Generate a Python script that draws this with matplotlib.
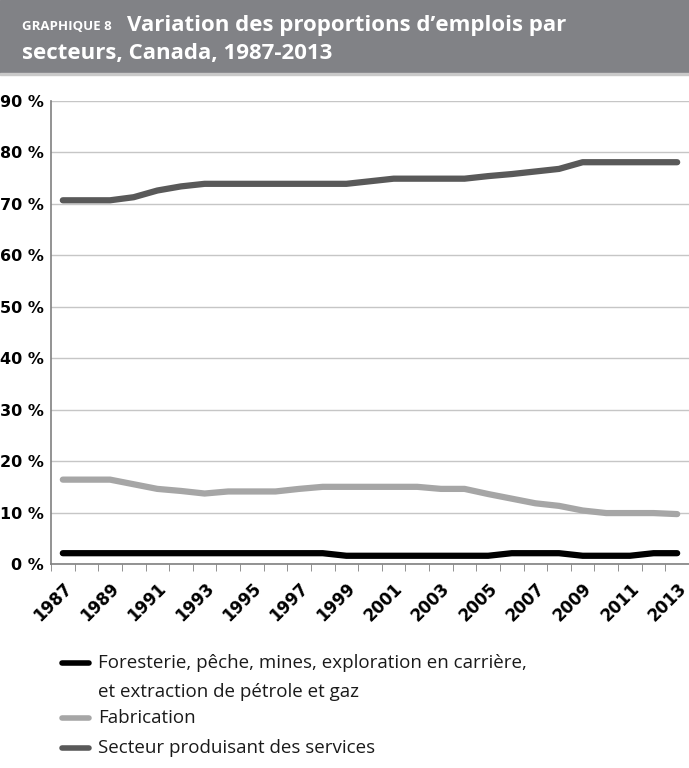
import matplotlib.pyplot as plt
from matplotlib.patches import Rectangle
from matplotlib.lines import Line2D

years = list(range(1987, 2014))
foresterie = [2.1, 2.1, 2.1, 2.1, 2.1, 2.1, 2.1, 2.1, 2.1, 2.1, 2.1, 2.1,
              1.6, 1.6, 1.6, 1.6, 1.6, 1.6, 1.6,
              2.1, 2.1, 2.1, 1.6, 1.6, 1.6, 2.1, 2.1]
fabrication = [16.4, 16.4, 16.4, 15.5, 14.6, 14.2, 13.7, 14.1, 14.1, 14.1, 14.6,
               15.0, 15.0, 15.0, 15.0, 15.0, 14.6, 14.6, 13.6, 12.7, 11.8, 11.3,
               10.4, 9.9, 9.9, 9.9, 9.7]
services = [70.7, 70.7, 70.7, 71.3, 72.6, 73.4, 73.9, 73.9, 73.9, 73.9, 73.9,
            73.9, 73.9, 74.4, 74.9, 74.9, 74.9, 74.9, 75.4, 75.8, 76.3, 76.8,
            78.1, 78.1, 78.1, 78.1, 78.1]

labels = ["Foresterie, pêche, mines, exploration en carrière,\net extraction de pétrole et gaz",
          "Fabrication",
          "Secteur produisant des services"]
colors = ["#000000", "#a6a6a6", "#595959"]

W, H = 689, 768
fig = plt.figure(figsize=(W / 100, H / 100), dpi=100)

# bandeau de titre
fig.patches.append(Rectangle((0, 1 - 73 / H), 1, 73 / H, transform=fig.transFigure,
                             color="#818286", zorder=0))
fig.patches.append(Rectangle((0, 1 - 75 / H), 1, 2 / H, transform=fig.transFigure,
                             color="#c9c9c9", zorder=0))
fig.text(22 / W, 1 - 27 / H, "GRAPHIQUE 8", color="white", fontsize=9.5,
         fontweight="bold", family="Open Sans", va="center", ha="left")
fig.text(127 / W, 1 - 25 / H, "Variation des proportions d\u2019emplois par",
         color="white", fontsize=16, fontweight="bold", family="Open Sans",
         va="center", ha="left")
fig.text(22 / W, 1 - 54 / H, "secteurs, Canada, 1987-2013",
         color="white", fontsize=16, fontweight="bold", family="Open Sans",
         va="center", ha="left")

ax = fig.add_axes([51 / W, 1 - 564 / H, 1 - 51 / W, (564 - 101) / H])
x = list(range(len(years)))
for vals, col in zip([foresterie, fabrication, services], colors):
    ax.plot(x, vals, color=col, lw=4.5, solid_capstyle="round", zorder=3)

ax.set_xlim(-0.5, len(years) - 0.5)
ax.set_ylim(0, 90)
ax.set_yticks(range(0, 91, 10))
ax.set_yticklabels([f"{v} %" for v in range(0, 91, 10)], fontsize=11.5, fontweight="bold")
ax.tick_params(axis="y", length=0, pad=5)
ax.grid(axis="y", color="#c6c6c6", lw=1)
ax.set_axisbelow(True)

ax.set_xticks(x[::2])
ax.set_xticklabels([str(y) for y in years[::2]], rotation=45, ha="right",
                   rotation_mode="anchor", fontsize=12, fontweight="bold")
ax.set_xticks([i - 0.5 for i in range(len(years) + 1)], minor=True)
ax.tick_params(axis="x", which="major", length=0, pad=11)
ax.tick_params(axis="x", which="minor", length=5, color="#808080", direction="out")

for s in ["top", "right"]:
    ax.spines[s].set_visible(False)
for s in ["left", "bottom"]:
    ax.spines[s].set_color("#808080")
    ax.spines[s].set_linewidth(1.2)

# légende
rows = [663, 718, 748]
for lab, col, yy in zip(labels, colors, rows):
    fig.add_artist(Line2D([62 / W, 89 / W], [1 - yy / H, 1 - yy / H], color=col,
                          lw=4, solid_capstyle="round", transform=fig.transFigure))
    for k, part in enumerate(lab.split("\n")):
        fig.text(98 / W, 1 - (yy + 29 * k) / H, part, fontsize=13.5,
                 family="Open Sans", va="center", ha="left", color="#1a1a1a")

fig.savefig("out.png", dpi=100)
